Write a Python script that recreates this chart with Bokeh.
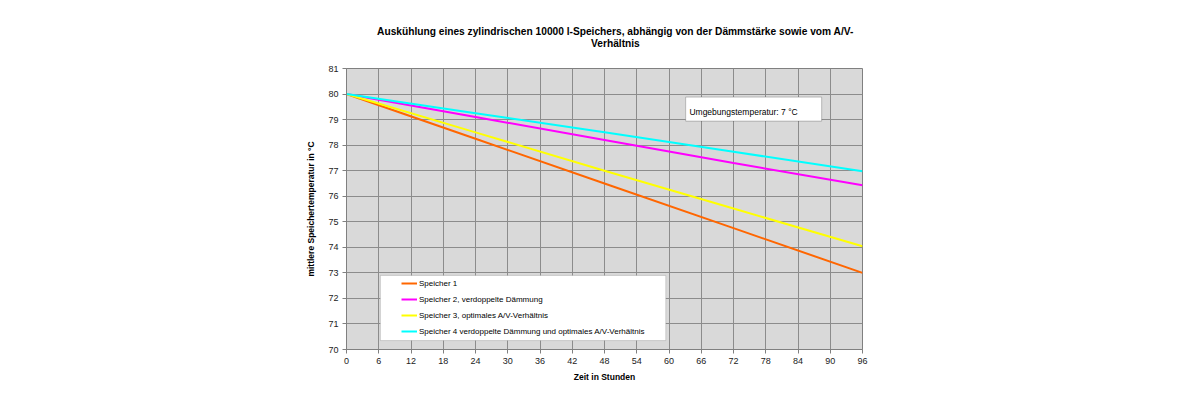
from bokeh.plotting import figure
from bokeh.models import (Legend, LegendItem, BoxAnnotation, Label, FixedTicker,
                          Range1d)
from bokeh.layouts import column
from bokeh.core.properties import value
from bokeh.embed import file_html
from bokeh.resources import INLINE

# ---- data ----
hours = [0, 24, 48, 72, 96]
speicher1 = [80.0, 78.25, 76.5, 74.75, 73.0]
speicher2 = [80.0, 79.1, 78.2, 77.3, 76.43]
speicher3 = [80.0, 78.5, 77.0, 75.52, 74.04]
speicher4 = [80.0, 79.25, 78.5, 77.74, 76.98]

series_names = ["Speicher 1",
                "Speicher 2, verdoppelte Dämmung",
                "Speicher 3, optimales A/V-Verhältnis",
                "Speicher 4 verdoppelte Dämmung und optimales A/V-Verhältnis"]
series_colors = ["#ff6600", "#ff00ff", "#ffff00", "#00ffff"]

x_ticks = list(range(0, 97, 6))
y_ticks = list(range(70, 82))

title_lines = ["Auskühlung eines zylindrischen 10000 l-Speichers, abhängig von der Dämmstärke sowie vom A/V-",
               "Verhältnis"]
x_label = "Zeit in Stunden"
y_label = "mittlere Speichertemperatur in °C"
note_text = "Umgebungstemperatur: 7 °C"

FONT = "Liberation Sans"
W = 1184
TITLE_H = 50

# ---- title strip (own small canvas so the two lines are both centred) ----
tf = figure(width=W, height=TITLE_H, output_backend="svg", toolbar_location=None,
            x_range=Range1d(0, W), y_range=Range1d(0, TITLE_H),
            x_axis_type=None, y_axis_type=None, min_border=0, title=None)
tf.outline_line_color = None
tf.background_fill_color = "white"
tf.border_fill_color = "white"
tf.xgrid.visible = False
tf.ygrid.visible = False
tf.text(x=[617, 617], y=[TITLE_H - 31, TITLE_H - 43], text=title_lines,
        text_align="center", text_baseline="middle", text_font=value(FONT),
        text_font_size="10.2px", text_font_style="bold", text_color="black")

# ---- main chart ----
p = figure(width=W, height=384 - TITLE_H, output_backend="svg", toolbar_location=None,
           x_range=Range1d(0, 96), y_range=Range1d(70, 81),
           min_border_left=346, min_border_right=322, min_border_top=68 - TITLE_H,
           min_border_bottom=35, title=None)

p.border_fill_color = "white"
p.background_fill_color = "#d9d9d9"
p.outline_line_color = "#808080"
p.outline_line_width = 1

for ax, ticks in ((p.xaxis[0], x_ticks), (p.yaxis[0], y_ticks)):
    ax.ticker = FixedTicker(ticks=ticks)
    ax.major_label_text_font = FONT
    ax.major_label_text_font_size = "9px"
    ax.major_label_text_color = "#222222"
    ax.axis_label_text_font = FONT
    ax.axis_label_text_font_size = "8.5px"
    ax.axis_label_text_font_style = "bold"
    ax.axis_label_text_color = "black"
    ax.axis_line_color = "#808080"
    ax.major_tick_line_color = "#808080"
    ax.major_tick_out = 4
    ax.major_tick_in = 0
    ax.minor_tick_line_color = None

p.xaxis.axis_label = x_label
p.yaxis.axis_label = y_label
p.xaxis.axis_label_standoff = 5
p.yaxis.axis_label_standoff = 9
p.xaxis.major_label_standoff = 4
p.yaxis.major_label_standoff = 4

p.xgrid.ticker = FixedTicker(ticks=x_ticks)
p.ygrid.ticker = FixedTicker(ticks=y_ticks)
for g in (p.xgrid[0], p.ygrid[0]):
    g.grid_line_color = "#8c8c8c"
    g.grid_line_width = 1

# legend box (white panel)
p.add_layout(BoxAnnotation(left=6.3, right=59.4, bottom=70.35, top=72.9,
                           fill_color="white", fill_alpha=1.0,
                           line_color="#808080", line_width=1, level="annotation"))
# note box
p.add_layout(BoxAnnotation(left=63.1, right=88.4, bottom=78.94, top=79.88,
                           fill_color="white", fill_alpha=1.0,
                           line_color="#404040", line_width=1, level="annotation"))
p.add_layout(Label(x=63.8, y=79.29, text=note_text, text_font=FONT,
                   text_font_size="8.5px", text_baseline="middle", text_color="black"))

items = []
for ys, name, col in zip([speicher1, speicher2, speicher3, speicher4], series_names, series_colors):
    r = p.line(hours, ys, line_color=col, line_width=2)
    items.append(LegendItem(label=name, renderers=[r]))

legend = Legend(items=items, location=(55, 10), orientation="vertical",
                background_fill_alpha=0, border_line_color=None,
                label_text_font=FONT, label_text_font_size="8px",
                label_text_color="black", glyph_width=16, glyph_height=16,
                label_height=16, spacing=0, padding=2, margin=0, label_standoff=2)
p.add_layout(legend, "center")

layout = column(tf, p, spacing=0)
open("out.html", "w").write(file_html(layout, INLINE))
